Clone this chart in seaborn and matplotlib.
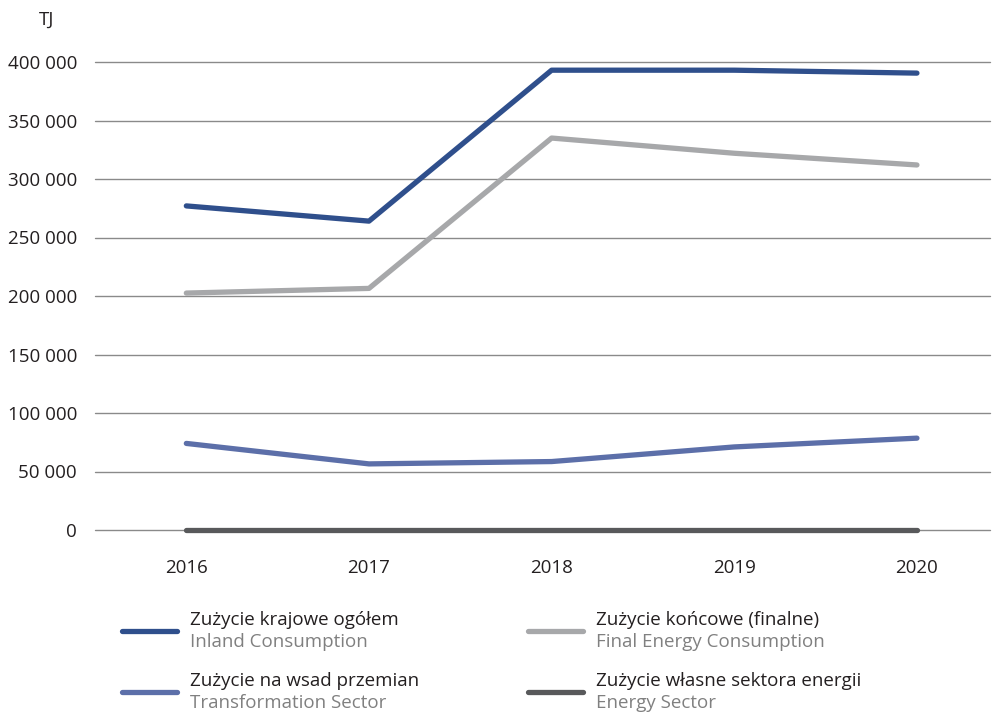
import matplotlib
matplotlib.use("Agg")
import matplotlib.pyplot as plt
import seaborn as sns
import pandas as pd
from matplotlib.lines import Line2D
from matplotlib.ticker import FuncFormatter

years = [2016, 2017, 2018, 2019, 2020]
inland = [277000, 264000, 393000, 393000, 390500]
final_energy = [202500, 206500, 335000, 322000, 312000]
transformation = [74000, 56500, 58500, 71000, 78500]
energy_sector = [0, 0, 0, 0, 0]

series_pl = ["Zużycie krajowe ogółem", "Zużycie końcowe (finalne)",
             "Zużycie na wsad przemian", "Zużycie własne sektora energii"]
series_en = ["Inland Consumption", "Final Energy Consumption",
             "Transformation Sector", "Energy Sector"]
colors = ["#2f4f8c", "#a7a8aa", "#5c6fa9", "#58595b"]
yticks = [0, 50000, 100000, 150000, 200000, 250000, 300000, 350000, 400000]

sns.set_theme(style="white")
plt.rcParams["font.family"] = ["Open Sans", "DejaVu Sans"]

rows = []
for name, vals in zip(series_pl, [inland, final_energy, transformation, energy_sector]):
    for y, v in zip(years, vals):
        rows.append({"year": y, "value": v, "series": name})
df = pd.DataFrame(rows)

fig = plt.figure(figsize=(9.92, 7.12), dpi=100)
ax = fig.add_axes([95/992, (712-530)/712, (990-95)/992, (530-62)/712])

sns.lineplot(data=df, x="year", y="value", hue="series", hue_order=series_pl,
             palette=colors, linewidth=3.8, legend=False, ax=ax)
for ln in ax.get_lines():
    ln.set_clip_on(False)
    ln.set_solid_capstyle("round")
    ln.set_solid_joinstyle("round")
    ln.set_zorder(3)

ax.set_xlim(2015.5, 2020.4)
ax.set_ylim(0, 400000)
ax.set_yticks(yticks)
ax.set_xticks(years)
ax.yaxis.set_major_formatter(FuncFormatter(lambda v, p: f"{int(v):,}".replace(",", " ")))
ax.grid(axis="y", color="#8a8a8a", linewidth=1.0, clip_on=False)
ax.set_axisbelow(True)
for sp in ax.spines.values():
    sp.set_visible(False)
ax.tick_params(axis="y", length=0, pad=13, labelsize=13.5, labelcolor="#231f20")
ax.tick_params(axis="x", length=0, pad=21, labelsize=13.5, labelcolor="#231f20")
ax.set_xlabel("")
ax.set_ylabel("")

fig.text(47/992, 1 - 20/712, "TJ", fontsize=13.5, color="#231f20", ha="center", va="center")

# legend
leg_pos = [(122, 631), (528, 631), (122, 692), (528, 692)]
for (lx, ly), c, pl, en in zip(leg_pos, colors, series_pl, series_en):
    fig.add_artist(Line2D([lx/992, (lx+55)/992], [1-ly/712, 1-ly/712], color=c,
                          linewidth=3.8, solid_capstyle="round", transform=fig.transFigure))
    fig.text((lx+68)/992, 1-(ly-11)/712, pl, fontsize=13.5, color="#231f20", va="center", ha="left")
    fig.text((lx+68)/992, 1-(ly+11)/712, en, fontsize=13.5, color="#808080", va="center", ha="left")

fig.savefig("out.png", dpi=100)
